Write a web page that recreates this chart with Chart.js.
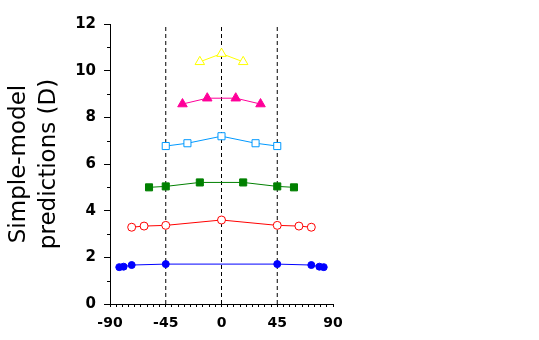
<!DOCTYPE html>
<html>
<head>
<meta charset="utf-8">
<script src="https://cdn.jsdelivr.net/npm/chart.js@4/dist/chart.umd.min.js"></script>
<style>
  html, body { margin: 0; padding: 0; background: #fff; }
</style>
</head>
<body>
<canvas id="chart" width="539" height="340"></canvas>
<script>
// angle (deg) and predicted value (D) for each curve
const blueX = [-82.5, -79, -72.5, -45, 45, 72.5, 79, 82.5];
const blueY = [1.58, 1.60, 1.67, 1.71, 1.71, 1.67, 1.60, 1.58];

const redX = [-72.5, -62.5, -45, 0, 45, 62.5, 72.5];
const redY = [3.29, 3.34, 3.37, 3.60, 3.37, 3.34, 3.29];

const greenX = [-58.5, -45, -17.5, 17.5, 45, 58.5];
const greenY = [5.00, 5.04, 5.21, 5.21, 5.04, 5.00];

const cyanX = [-45, -27.5, 0, 27.5, 45];
const cyanY = [6.77, 6.89, 7.19, 6.89, 6.77];

const pinkX = [-31.5, -11.5, 11.5, 31.5];
const pinkY = [8.57, 8.82, 8.82, 8.57];

const yellowX = [-17.5, 0, 17.5];
const yellowY = [10.38, 10.73, 10.38];

const refAngles = [-45, 0, 45];
const xLabels = [-90, -45, 0, 45, 90];
const yMinor = [1, 3, 5, 7, 9, 11];

const pts = (xs, ys) => xs.map((x, i) => ({ x, y: ys[i] }));

function series(xs, ys, color, style, radius, filled) {
  return {
    data: pts(xs, ys),
    borderColor: color,
    borderWidth: 1,
    pointStyle: style,
    pointRadius: radius,
    pointBorderColor: color,
    pointBorderWidth: 1,
    pointBackgroundColor: filled ? color : '#fff',
    pointHoverRadius: radius,
    tension: 0
  };
}

const datasets = [
  series(yellowX, yellowY, '#ffff00', 'triangle', 5.5, false),
  series(pinkX, pinkY, '#ff0099', 'triangle', 5.5, true),
  series(cyanX, cyanY, '#0099ff', 'rect', 5, false),
  series(greenX, greenY, '#008000', 'rect', 5, true),
  series(redX, redY, '#ff0000', 'circle', 4, false),
  series(blueX, blueY, '#0000ff', 'circle', 3.5, true)
];

// dashed reference lines at the marked angles
refAngles.forEach(a => {
  datasets.push({
    data: [{ x: a, y: 0 }, { x: a, y: 12 }],
    borderColor: '#000',
    borderWidth: 1,
    borderDash: [4, 3],
    pointRadius: 0
  });
});

const minorTicks = {
  id: 'minorTicks',
  afterDraw(chart) {
    const { ctx, scales: { x, y } } = chart;
    ctx.save();
    ctx.strokeStyle = '#000';
    ctx.lineWidth = 1;
    ctx.beginPath();
    yMinor.forEach(v => {
      const py = Math.round(y.getPixelForValue(v)) + 0.5;
      ctx.moveTo(x.left - 3, py);
      ctx.lineTo(x.left, py);
    });
    ctx.stroke();
    ctx.restore();
  }
};

new Chart(document.getElementById('chart').getContext('2d'), {
  type: 'line',
  data: { datasets },
  plugins: [minorTicks],
  options: {
    responsive: false,
    animation: false,
    events: [],
    layout: { padding: { left: 0, right: 206, top: 24, bottom: 0 } },
    plugins: {
      legend: { display: false },
      tooltip: { enabled: false }
    },
    scales: {
      x: {
        type: 'linear',
        min: -90,
        max: 90,
        afterFit: s => { s.height = 36; },
        border: { color: '#000', width: 1 },
        grid: { drawOnChartArea: false, tickLength: 3, tickColor: '#000' },
        ticks: {
          stepSize: 5,
          autoSkip: false,
          maxRotation: 0,
          padding: 8,
          color: '#000',
          font: { family: 'DejaVu Sans', size: 14, weight: 'bold' },
          callback: v => (xLabels.includes(v) ? String(v) : '')
        }
      },
      y: {
        min: 0,
        max: 12,
        afterFit: s => { s.width = 110; },
        border: { color: '#000', width: 1 },
        grid: { drawOnChartArea: false, tickLength: 6, tickColor: '#000' },
        ticks: {
          stepSize: 2,
          padding: 8,
          color: '#000',
          font: { family: 'DejaVu Sans', size: 15, weight: 'bold' }
        },
        title: {
          display: true,
          text: ['Simple-model', 'predictions (D)'],
          color: '#000',
          padding: { top: 4, bottom: 0 },
          font: { family: 'DejaVu Sans', size: 23, lineHeight: 1.3 }
        }
      }
    }
  }
});
</script>
</body>
</html>
